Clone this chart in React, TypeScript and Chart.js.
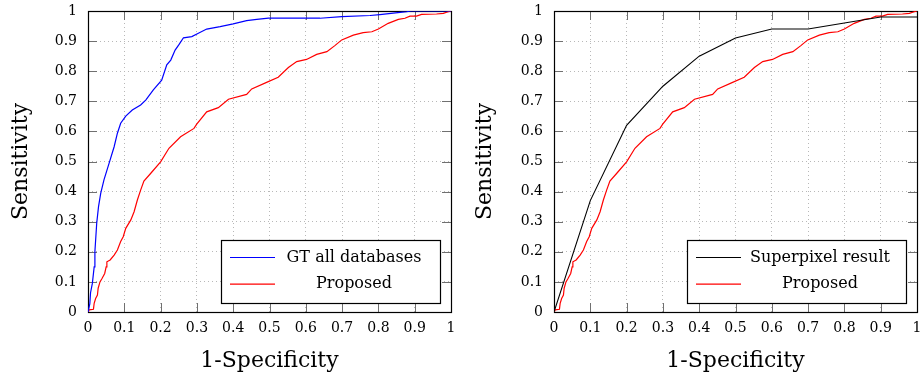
import React, { useEffect, useRef } from 'react';
import { Chart, registerables } from 'chart.js';

Chart.register(...registerables);

// ---------- data ----------
const xTickLabels = ['0', '0.1', '0.2', '0.3', '0.4', '0.5', '0.6', '0.7', '0.8', '0.9', '1'];
const yTickLabels = ['0', '0.1', '0.2', '0.3', '0.4', '0.5', '0.6', '0.7', '0.8', '0.9', '1'];

const xTitle = '1-Specificity';
const yTitle = 'Sensitivity';

const labelGT = 'GT all databases';
const labelProposed = 'Proposed';
const labelSuperpixel = 'Superpixel result';

const fprGT = [0, 0.005, 0.007, 0.012, 0.017, 0.019, 0.024, 0.029, 0.035, 0.044, 0.058, 0.072, 0.081, 0.09, 0.104, 0.122, 0.145, 0.159, 0.18, 0.203, 0.217, 0.228, 0.24, 0.251, 0.263, 0.286, 0.304, 0.327, 0.364, 0.4, 0.437, 0.465, 0.497, 0.639, 0.699, 0.777, 0.804, 0.878, 0.89, 1];
const tprGT = [0, 0.027, 0.064, 0.095, 0.15, 0.2, 0.295, 0.35, 0.394, 0.439, 0.494, 0.549, 0.594, 0.627, 0.651, 0.671, 0.688, 0.704, 0.738, 0.77, 0.821, 0.837, 0.87, 0.889, 0.911, 0.915, 0.926, 0.94, 0.948, 0.957, 0.968, 0.972, 0.976, 0.976, 0.981, 0.985, 0.988, 0.998, 1, 1];

const fprProposed = [0, 0.003, 0.015, 0.017, 0.021, 0.026, 0.028, 0.033, 0.039, 0.046, 0.05, 0.052, 0.061, 0.072, 0.081, 0.09, 0.097, 0.104, 0.118, 0.127, 0.136, 0.145, 0.154, 0.173, 0.2, 0.223, 0.255, 0.292, 0.299, 0.327, 0.359, 0.387, 0.437, 0.451, 0.492, 0.524, 0.552, 0.575, 0.602, 0.63, 0.658, 0.68, 0.699, 0.731, 0.758, 0.782, 0.8, 0.827, 0.855, 0.873, 0.887, 0.905, 0.919, 0.96, 0.979, 0.988, 1];
const tprProposed = [0, 0.007, 0.009, 0.029, 0.045, 0.056, 0.079, 0.1, 0.112, 0.128, 0.15, 0.167, 0.173, 0.189, 0.206, 0.234, 0.25, 0.278, 0.306, 0.333, 0.372, 0.405, 0.435, 0.461, 0.499, 0.544, 0.582, 0.61, 0.623, 0.665, 0.679, 0.707, 0.723, 0.741, 0.763, 0.78, 0.812, 0.832, 0.839, 0.856, 0.865, 0.885, 0.904, 0.92, 0.928, 0.931, 0.94, 0.959, 0.972, 0.976, 0.983, 0.983, 0.989, 0.99, 0.992, 0.996, 1];

const fprSuperpixel = [0, 0.1, 0.2, 0.3, 0.4, 0.5, 0.6, 0.7, 0.8, 0.9, 1];
const tprSuperpixel = [0, 0.37, 0.62, 0.75, 0.85, 0.91, 0.94, 0.94, 0.96, 0.98, 0.98];

// ---------- helpers ----------
const SERIF = "'DejaVu Serif', serif";

type Item = { label: string; color: string; width: number };

function toPoints(xs: number[], ys: number[]) {
  return xs.map((x, i) => ({ x, y: ys[i] }));
}

function zeroPadding(s: any) {
  s.paddingTop = 0;
  s.paddingBottom = 0;
  s.paddingLeft = 0;
  s.paddingRight = 0;
}

function makeFramePlugin(items: Item[]) {
  return {
    id: 'pgfFrame',
    beforeDatasetsDraw(chart: any) {
      const { ctx, chartArea: a, scales } = chart;
      const L = 9;
      ctx.save();
      ctx.strokeStyle = '#707070';
      ctx.lineWidth = 1;
      ctx.beginPath();
      scales.x.ticks.forEach((t: any) => {
        const px = Math.round(scales.x.getPixelForValue(t.value)) + 0.5;
        ctx.moveTo(px, a.bottom);
        ctx.lineTo(px, a.bottom - L);
        ctx.moveTo(px, a.top);
        ctx.lineTo(px, a.top + L);
      });
      scales.y.ticks.forEach((t: any) => {
        const py = Math.round(scales.y.getPixelForValue(t.value)) + 0.5;
        ctx.moveTo(a.left, py);
        ctx.lineTo(a.left + L, py);
        ctx.moveTo(a.right, py);
        ctx.lineTo(a.right - L, py);
      });
      ctx.stroke();
      ctx.strokeStyle = '#000';
      ctx.lineWidth = 1.2;
      ctx.strokeRect(Math.round(a.left) + 0.5, Math.round(a.top) + 0.5, Math.round(a.right) - Math.round(a.left), Math.round(a.bottom) - Math.round(a.top));
      ctx.restore();
    },
    afterDatasetsDraw(chart: any) {
      const { ctx, chartArea: a } = chart;
      const bw = 219;
      const bh = 63;
      const bx = Math.round(a.right - 11 - bw);
      const by = Math.round(a.bottom - 9 - bh);
      ctx.save();
      ctx.fillStyle = '#fff';
      ctx.fillRect(bx, by, bw, bh);
      ctx.strokeStyle = '#000';
      ctx.lineWidth = 1.2;
      ctx.strokeRect(bx + 0.5, by + 0.5, bw, bh);
      items.forEach((it, i) => {
        const y = by + 17.5 + i * 26.6;
        ctx.strokeStyle = it.color;
        ctx.lineWidth = it.width;
        ctx.beginPath();
        ctx.moveTo(bx + 9, y);
        ctx.lineTo(bx + 54, y);
        ctx.stroke();
        ctx.fillStyle = '#000';
        ctx.font = `16px ${SERIF}`;
        ctx.textAlign = 'center';
        ctx.textBaseline = 'middle';
        ctx.fillText(it.label, bx + 133, y);
      });
      ctx.restore();
    },
  };
}

function makeConfig(datasets: any[], items: Item[], yAxisWidth: number, rightPad: number, yTitlePad: number) {
  const tickFont = { family: SERIF, size: 14 };
  const titleFont = { family: SERIF, size: 22 };
  return {
    type: 'scatter',
    data: { datasets },
    options: {
      animation: false,
      responsive: false,
      devicePixelRatio: 1,
      layout: { padding: { left: 0, right: rightPad, top: 11, bottom: 0 } },
      plugins: { legend: { display: false }, tooltip: { enabled: false } },
      scales: {
        x: {
          type: 'linear',
          position: 'bottom',
          min: 0,
          max: 1,
          afterFit: (s: any) => { s.height = 67; zeroPadding(s); },
          grid: { color: '#b8b8b8', lineWidth: 1, drawTicks: false },
          border: { display: false, dash: [1, 3] },
          ticks: {
            stepSize: 0.1,
            autoSkip: false,
            maxRotation: 0,
            padding: 8,
            color: '#000',
            font: tickFont,
            callback: (_v: any, i: number) => xTickLabels[i] ?? '',
          },
          title: { display: true, text: xTitle, color: '#000', font: titleFont, padding: { top: 0, bottom: 5 } },
        },
        y: {
          type: 'linear',
          position: 'left',
          min: 0,
          max: 1,
          afterFit: (s: any) => { s.width = yAxisWidth; zeroPadding(s); },
          grid: { color: '#b8b8b8', lineWidth: 1, drawTicks: false },
          border: { display: false, dash: [1, 3] },
          ticks: {
            stepSize: 0.1,
            autoSkip: false,
            padding: 11,
            color: '#000',
            font: tickFont,
            callback: (_v: any, i: number) => yTickLabels[i] ?? '',
          },
          title: { display: true, text: yTitle, color: '#000', font: titleFont, padding: { top: yTitlePad, bottom: 0 } },
        },
      },
    },
    plugins: [makeFramePlugin(items)],
  };
}

function RocChart(props: { datasets: any[]; items: Item[]; width: number; left: number; yAxisWidth: number; rightPad: number; yTitlePad: number }) {
  const ref = useRef<HTMLCanvasElement | null>(null);
  useEffect(() => {
    if (!ref.current) return;
    const chart = new Chart(ref.current, makeConfig(props.datasets, props.items, props.yAxisWidth, props.rightPad, props.yTitlePad) as any);
    return () => chart.destroy();
  }, []);
  return (
    <canvas
      ref={ref}
      width={props.width}
      height={379}
      style={{ position: 'absolute', left: props.left, top: 0, width: props.width, height: 379 }}
    />
  );
}

export default function App() {
  const blue = '#0000ff';
  const red = '#ff0000';
  const black = '#000000';
  const lineDs = (label: string, pts: any[], color: string, w: number) => ({
    label,
    data: pts,
    showLine: true,
    borderColor: color,
    backgroundColor: color,
    borderWidth: w,
    pointRadius: 0,
    tension: 0,
  });
  const leftSets = [
    lineDs(labelGT, toPoints(fprGT, tprGT), blue, 1.2),
    lineDs(labelProposed, toPoints(fprProposed, tprProposed), red, 1.2),
  ];
  const rightSets = [
    lineDs(labelSuperpixel, toPoints(fprSuperpixel, tprSuperpixel), black, 1.1),
    lineDs(labelProposed, toPoints(fprProposed, tprProposed), red, 1.2),
  ];
  return (
    <div style={{ position: 'absolute', left: 0, top: 0, width: 922, height: 379, background: '#fff', overflow: 'hidden' }}>
      <RocChart
        datasets={leftSets}
        items={[{ label: labelGT, color: blue, width: 1.2 }, { label: labelProposed, color: red, width: 1.2 }]}
        width={460}
        left={0}
        yAxisWidth={88}
        rightPad={9}
        yTitlePad={8}
      />
      <RocChart
        datasets={rightSets}
        items={[{ label: labelSuperpixel, color: black, width: 1.1 }, { label: labelProposed, color: red, width: 1.2 }]}
        width={462}
        left={460}
        yAxisWidth={94}
        rightPad={5}
        yTitlePad={12}
      />
    </div>
  );
}
